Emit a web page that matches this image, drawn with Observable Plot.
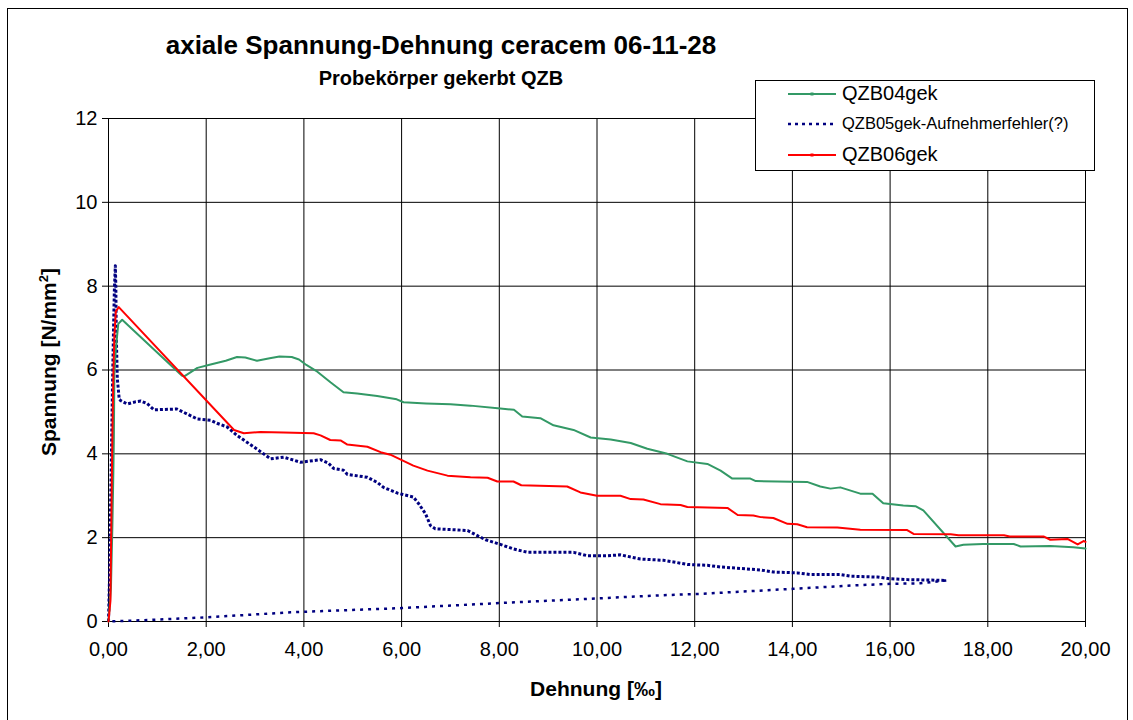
<!DOCTYPE html>
<html>
<head>
<meta charset="utf-8">
<script src="https://cdn.jsdelivr.net/npm/d3@7"></script>
<script src="https://cdn.jsdelivr.net/npm/@observablehq/plot@0.6"></script>
<style>
  body { margin: 0; background: #fff; font-family: "Liberation Sans", Arial, sans-serif; }
  #wrap { position: relative; width: 1133px; height: 720px; overflow: hidden; background: #fff; }
  #frame { position: absolute; left: 7px; top: 8px; width: 1121px; height: 730px; border: 1px solid #000; box-sizing: border-box; pointer-events: none; }
  #chart { position: absolute; left: 0; top: 0; }
  .title { position: absolute; white-space: nowrap; font-weight: bold; color: #000; line-height: 1; transform: translateX(-50%); }
  #legend { position: absolute; left: 755px; top: 80px; width: 340px; height: 91px; border: 1px solid #000; background: #fff; box-sizing: border-box; }
  .litem { position: absolute; left: 32px; height: 24px; white-space: nowrap; color: #000; }
  .litem svg { position: absolute; left: 0; top: 0; }
  .litem span { position: absolute; left: 54px; line-height: 1; }
  #ylab { position: absolute; left: 48px; top: 362px; transform: translate(-50%, -50%) rotate(-90deg); font-weight: bold; font-size: 21px; white-space: nowrap; line-height: 1; }
  #xlab { position: absolute; left: 596px; top: 688px; transform: translate(-50%, -50%); font-weight: bold; font-size: 21px; white-space: nowrap; line-height: 1; }
</style>
</head>
<body>
<div id="wrap">
  <div id="chart"></div>
  <div class="title" style="left:441px; top:32px; font-size:26px;">axiale Spannung-Dehnung ceracem 06-11-28</div>
  <div class="title" style="left:441px; top:68px; font-size:20px;">Probekörper gekerbt QZB</div>
  <div id="ylab">Spannung [N/mm<sup style="font-size:13px;">2</sup>]</div>
  <div id="xlab">Dehnung [‰]</div>
  <div id="legend"></div>
  <div id="frame"></div>
</div>
<script>
// ---------- data ----------
const seriesNames = ["QZB04gek", "QZB05gek-Aufnehmerfehler(?)", "QZB06gek"];
const seriesColors = ["#339966", "#000080", "#FF0000"];

const xTicks = [0, 2, 4, 6, 8, 10, 12, 14, 16, 18, 20];
const yTicks = [0, 2, 4, 6, 8, 10, 12];

// QZB04gek
const greenX = [0, 0.05, 0.08, 0.1, 0.11, 0.12, 0.15, 0.2, 0.28, 1.5, 1.55, 1.82, 2.09, 2.4, 2.63, 2.8, 3.04, 3.3, 3.5, 3.75, 3.9, 4.05, 4.25, 4.55, 4.81, 5.09, 5.5, 5.9, 6.04, 6.5, 7.0, 7.41, 8.02, 8.3, 8.47, 8.84, 9.11, 9.52, 9.87, 10.28, 10.69, 11.03, 11.44, 11.85, 12.26, 12.53, 12.77, 13.14, 13.25, 14.3, 14.57, 14.78, 14.98, 15.39, 15.64, 15.86, 16.27, 16.52, 16.68, 17.34, 17.5, 17.9, 18.53, 18.67, 19.28, 19.75, 20.0];
const greenY = [0, 0.8, 2.3, 3.6, 4.4, 5.9, 6.5, 7.1, 7.2, 5.87, 5.85, 6.05, 6.13, 6.22, 6.31, 6.3, 6.22, 6.28, 6.32, 6.31, 6.25, 6.12, 5.98, 5.7, 5.47, 5.44, 5.38, 5.3, 5.23, 5.2, 5.18, 5.15, 5.08, 5.05, 4.89, 4.85, 4.68, 4.57, 4.39, 4.34, 4.26, 4.12, 4.0, 3.82, 3.76, 3.6, 3.41, 3.41, 3.35, 3.33, 3.22, 3.17, 3.2, 3.05, 3.05, 2.82, 2.77, 2.75, 2.65, 1.79, 1.83, 1.85, 1.85, 1.79, 1.8, 1.77, 1.74];

// QZB05gek (loading / softening branch)
const blueX = [0, 0.02, 0.04, 0.06, 0.08, 0.1, 0.12, 0.14, 0.15, 0.16, 0.18, 0.22, 0.25, 0.38, 0.55, 0.66, 0.79, 0.93, 1.4, 1.54, 1.82, 2.09, 2.22, 2.43, 2.63, 2.98, 3.32, 3.59, 3.93, 4.34, 4.5, 4.61, 4.81, 4.89, 5.3, 5.5, 5.63, 5.92, 6.24, 6.35, 6.49, 6.59, 6.69, 7.06, 7.35, 7.55, 7.72, 8.02, 8.29, 8.58, 9.52, 9.8, 10.21, 10.48, 10.89, 11.36, 11.57, 11.85, 12.26, 12.53, 13.35, 13.61, 14.1, 14.37, 14.98, 15.19, 15.74, 16.0, 16.35, 17.15];
const blueY = [0, 1.0, 2.5, 4.0, 5.5, 6.8, 7.9, 8.49, 8.0, 6.8, 5.8, 5.3, 5.27, 5.19, 5.24, 5.26, 5.2, 5.05, 5.07, 4.99, 4.83, 4.8, 4.73, 4.64, 4.44, 4.16, 3.88, 3.92, 3.8, 3.86, 3.78, 3.65, 3.61, 3.51, 3.44, 3.32, 3.2, 3.06, 2.97, 2.81, 2.57, 2.29, 2.21, 2.19, 2.17, 2.05, 1.95, 1.84, 1.73, 1.65, 1.65, 1.57, 1.57, 1.59, 1.49, 1.46, 1.42, 1.36, 1.34, 1.3, 1.23, 1.18, 1.16, 1.12, 1.12, 1.08, 1.06, 1.02, 1.0, 0.98];
// QZB05gek (return branch back to origin)
const blueReturnX = [17.15, 16.62, 16.0, 15.25, 14.02, 12.12, 11.2, 10.0, 9.1, 8.0, 6.0, 3.73, 2.02, 0.9, 0];
const blueReturnY = [0.98, 0.91, 0.9, 0.86, 0.78, 0.66, 0.62, 0.55, 0.5, 0.44, 0.32, 0.22, 0.1, 0.04, 0];

// QZB06gek
const redX = [0, 0.04, 0.06, 0.08, 0.1, 0.12, 0.15, 0.21, 2.57, 2.77, 3.11, 3.58, 4.2, 4.34, 4.54, 4.75, 4.89, 5.3, 5.57, 5.77, 6.24, 6.53, 6.94, 7.41, 7.76, 7.96, 8.29, 8.45, 9.39, 9.66, 10.0, 10.48, 10.69, 10.95, 11.3, 11.71, 11.85, 12.67, 12.88, 13.2, 13.35, 13.61, 13.9, 14.1, 14.3, 14.92, 15.39, 16.35, 16.48, 17.24, 17.4, 18.33, 18.45, 19.14, 19.28, 19.63, 19.84, 19.96, 20.0];
const redY = [0, 0.5, 2.6, 4.5, 5.9, 6.8, 7.4, 7.5, 4.57, 4.49, 4.52, 4.51, 4.49, 4.44, 4.33, 4.32, 4.22, 4.17, 4.04, 3.98, 3.72, 3.6, 3.48, 3.44, 3.43, 3.34, 3.34, 3.25, 3.22, 3.08, 3.0, 3.0, 2.92, 2.91, 2.8, 2.78, 2.73, 2.71, 2.54, 2.53, 2.49, 2.47, 2.33, 2.32, 2.25, 2.24, 2.19, 2.18, 2.09, 2.08, 2.06, 2.06, 2.03, 2.03, 1.95, 1.97, 1.84, 1.92, 1.9];

// ---------- build tables ----------
const toRows = (xs, ys) => xs.map((x, i) => ({x, y: ys[i]}));
const green = toRows(greenX, greenY);
const blue = toRows(blueX, blueY);
const blueReturn = toRows(blueReturnX, blueReturnY);
const red = toRows(redX, redY);

const fmt = d => d.toFixed(2).replace(".", ",");

const chart = Plot.plot({
  width: 1133,
  height: 720,
  marginLeft: 108,
  marginRight: 48,
  marginTop: 118,
  marginBottom: 99,
  style: { fontFamily: "'Liberation Sans', Arial, sans-serif", fontSize: "20px", color: "#000", background: "transparent", overflow: "visible" },
  x: { domain: [0, 20] },
  y: { domain: [0, 12] },
  marks: [
    Plot.gridX(xTicks, { stroke: "#000", strokeOpacity: 1, strokeWidth: 1 }),
    Plot.gridY(yTicks, { stroke: "#000", strokeOpacity: 1, strokeWidth: 1 }),
    Plot.frame({ stroke: "#000", strokeWidth: 1 }),
    Plot.axisX(xTicks, { tickFormat: fmt, tickSize: 6, tickPadding: 14, label: null, fontSize: 20 }),
    Plot.axisY(yTicks, { tickSize: 6, tickPadding: 5, label: null, fontSize: 20 }),
    Plot.line(blueReturn, { x: "x", y: "y", stroke: seriesColors[1], strokeWidth: 2.5, strokeDasharray: "3,5", strokeLinecap: "butt" }),
    Plot.line(blue, { x: "x", y: "y", stroke: seriesColors[1], strokeWidth: 3, strokeDasharray: "3,2", strokeLinecap: "butt" }),
    Plot.line(green, { x: "x", y: "y", stroke: seriesColors[0], strokeWidth: 2 }),
    Plot.line(red, { x: "x", y: "y", stroke: seriesColors[2], strokeWidth: 2 })
  ]
});
document.getElementById("chart").appendChild(chart);

// ---------- legend ----------
const legend = document.getElementById("legend");
const legendItems = [
  { name: seriesNames[0], color: seriesColors[0], dash: null, size: 20, top: 1 },
  { name: seriesNames[1], color: seriesColors[1], dash: "3,4", size: 16.5, top: 31 },
  { name: seriesNames[2], color: seriesColors[2], dash: null, size: 20, top: 62 }
];
legendItems.forEach(it => {
  const row = document.createElement("div");
  row.className = "litem";
  row.style.top = it.top + "px";
  const w = 48;
  const dashAttr = it.dash ? `stroke-dasharray="${it.dash}"` : "";
  const sw = it.dash ? 2.5 : 2;
  row.innerHTML = `<svg width="${w}" height="24"><line x1="0" x2="${w}" y1="12" y2="12" stroke="${it.color}" stroke-width="${sw}" ${dashAttr}/>` +
    (it.dash ? "" : `<rect x="${w/2-1.5}" y="10.5" width="3" height="3" fill="${it.color}"/>`) +
    `</svg><span style="font-size:${it.size}px; top:${12 - it.size*0.55}px">${it.name}</span>`;
  legend.appendChild(row);
});
</script>
</body>
</html>
